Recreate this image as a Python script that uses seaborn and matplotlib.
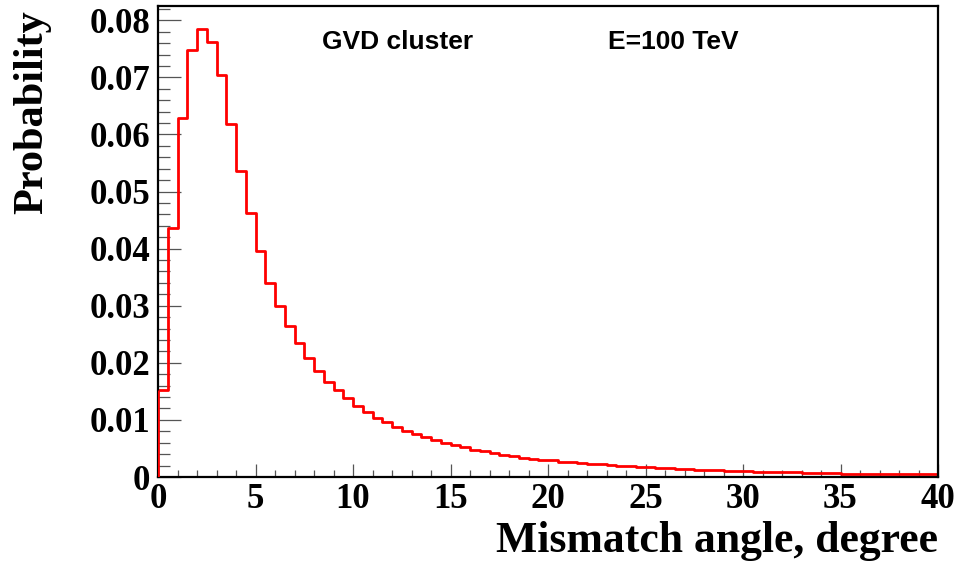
import numpy as np
import pandas as pd
import matplotlib
matplotlib.use("Agg")
import matplotlib.pyplot as plt
import seaborn as sns
from matplotlib.ticker import MultipleLocator, FuncFormatter

# Histogram binning (degrees)
bin_width = 0.5
angle_max = 40.0

# Probability per 0.5-degree bin of the mismatch angle
probability = [
    0.0152, 0.0436, 0.0628, 0.0748, 0.0784, 0.0762, 0.0704, 0.0619,
    0.0536, 0.0462, 0.0396, 0.0339, 0.0300, 0.0264, 0.0234, 0.0209,
    0.0186, 0.0167, 0.0152, 0.0138, 0.0124, 0.0114, 0.0104, 0.0096,
    0.0088, 0.0081, 0.0075, 0.0070, 0.0065, 0.0060, 0.0056, 0.0052,
    0.0048, 0.0045, 0.0042, 0.0039, 0.0037, 0.0034, 0.0032, 0.0030,
    0.0029, 0.0027, 0.0026, 0.0024, 0.0023, 0.0022, 0.0021, 0.0020,
    0.0019, 0.0018, 0.0017, 0.0016, 0.0015, 0.0014, 0.0014, 0.0013,
    0.0012, 0.0012, 0.0011, 0.0010, 0.0010, 0.0009, 0.0009, 0.0008,
    0.0008, 0.0008, 0.0007, 0.0007, 0.0007, 0.0007, 0.0006, 0.0006,
    0.0006, 0.0006, 0.0006, 0.0005, 0.0005, 0.0005, 0.0005, 0.0005,
]

x_title = "Mismatch angle, degree"
y_title = "Probability"
label_left = "GVD cluster"
label_right = "E=100 TeV"

edges = np.arange(0, angle_max + bin_width / 2, bin_width)
centers = edges[:-1] + bin_width / 2
df = pd.DataFrame({"angle": centers, "prob": probability})

sns.set_style("white")
plt.rcParams["font.family"] = ["Liberation Serif", "DejaVu Serif"]
plt.rcParams["font.weight"] = "bold"
plt.rcParams["text.color"] = "black"

W, H = 960, 568
fig = plt.figure(figsize=(W / 100, H / 100), dpi=100)
ax = fig.add_axes([158 / W, 1 - 477 / H, 780 / W, 471 / H])

sns.histplot(data=df, x="angle", weights="prob", bins=edges.tolist(),
             element="step", fill=False, color="#ff0000",
             linewidth=2.0, ax=ax)
# rising edge of the first bin at the origin
ax.plot([edges[0], edges[0]], [0, probability[0]], color="#ff0000",
        linewidth=2.0, solid_capstyle="butt", zorder=3)

ax.set_xlim(0, angle_max)
ax.set_ylim(0, 0.0825)
ax.set_xlabel("")
ax.set_ylabel("")

ax.xaxis.set_major_locator(MultipleLocator(5))
ax.xaxis.set_minor_locator(MultipleLocator(1))
ax.yaxis.set_major_locator(MultipleLocator(0.01))
ax.yaxis.set_minor_locator(MultipleLocator(0.002))
ax.xaxis.set_major_formatter(FuncFormatter(lambda v, _: f"{v:g}"))
ax.yaxis.set_major_formatter(
    FuncFormatter(lambda v, _: "0" if abs(v) < 1e-9 else f"{v:.2f}"))

ax.tick_params(axis="both", which="both", direction="in", top=False,
               right=False, bottom=True, left=True, color="#555555",
               width=0.9, labelsize=25, labelcolor="black")
ax.tick_params(axis="y", which="major", length=16.5, pad=5.5)
ax.tick_params(axis="y", which="minor", length=8.5)
ax.tick_params(axis="x", which="major", length=9.5, pad=4)
ax.tick_params(axis="x", which="minor", length=4.7)

for s in ax.spines.values():
    s.set_visible(True)
    s.set_color("black")
    s.set_linewidth(1.6)

ax.text(8.39, 0.0749, label_left, fontfamily="Liberation Sans",
        fontweight="bold", fontsize=19, va="baseline", ha="left",
        color="black")
ax.text(23.08, 0.0749, label_right, fontfamily="Liberation Sans",
        fontweight="bold", fontsize=19, va="baseline", ha="left",
        color="black")

fig.text(32 / W, 1 - 10 / H, y_title, rotation=90, ha="center", va="top",
         fontsize=30.5, fontweight="bold", color="black")
fig.text(938 / W, 1 - 552 / H, x_title, ha="right", va="baseline",
         fontsize=31.5, fontweight="bold", color="black")

fig.savefig("out.png", dpi=100, facecolor="white")
